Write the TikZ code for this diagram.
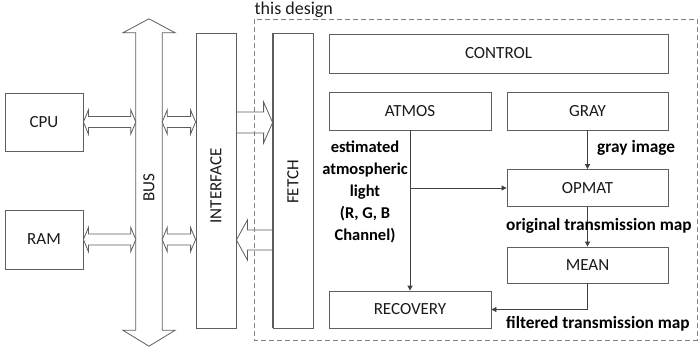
\documentclass[tikz,border=0pt]{standalone}
\usepackage{fontspec}
\setmainfont{Carlito}
\usetikzlibrary{arrows.meta,calc}
\definecolor{edge}{HTML}{5E5E5E}
\definecolor{wire}{HTML}{404040}
\definecolor{ink}{HTML}{1A1A1A}
\definecolor{frame}{HTML}{808080}

% outlined two-way block arrow between two points on one height
\newcommand\twowayarrow[2]{%
  \draw[blockarrow] let \p1=(#1), \p2=(#2) in
    (\x1,\y1) -- (\x1+5pt,\y1+12pt) -- (\x1+5pt,\y1+5.5pt) -- (\x2-5pt,\y1+5.5pt)
    -- (\x2-5pt,\y1+12pt) -- (\x2,\y1) -- (\x2-5pt,\y1-12pt) -- (\x2-5pt,\y1-5.5pt)
    -- (\x1+5pt,\y1-5.5pt) -- (\x1+5pt,\y1-12pt) -- cycle;}

\begin{document}
\begin{tikzpicture}[x=1pt,y=-1pt,
  box/.style={draw=edge, line width=0.8pt, fill=white, inner sep=0pt, text=ink,
    font=\fontsize{17}{20}\selectfont},
  blockarrow/.style={draw=edge, line width=0.8pt, fill=white, line join=miter},
  wirearrow/.style={draw=wire, line width=0.8pt, -{Triangle[length=5pt,width=5pt]}},
  lbl/.style={font=\bfseries\fontsize{17.3}{22}\selectfont, text=black, inner sep=0pt},
  plain/.style={font=\fontsize{17}{20}\selectfont, text=ink, inner sep=0pt},
]
\useasboundingbox (0,0) rectangle (698,349);

% host side
\node[box, minimum width=78pt, minimum height=58pt] (cpu) at (44,122) {CPU};
\node[box, minimum width=78pt, minimum height=59pt] (ram) at (44,239.5) {RAM};
\node[inner sep=0pt, minimum width=26pt, minimum height=297pt] (bus) at (149,181.5) {};
\node[box, minimum width=40pt, minimum height=295pt] (interface) at (216,180.5) {};
\node[box, minimum width=40pt, minimum height=295pt] (fetch) at (293,180.5) {};

% system bus
\draw[blockarrow] (bus.north west) -- ++(-13pt,0) -- ($(bus.north)+(0,14pt)$)
  -- ($(bus.north east)+(13pt,0)$) -- (bus.north east) -- (bus.south east)
  -- ++(13pt,0) -- ($(bus.south)+(0,-16pt)$) -- ($(bus.south west)+(-13pt,0)$)
  -- (bus.south west) -- cycle;
\node[plain, rotate=90] (buslabel) at (149,188) {BUS};
\node[plain, rotate=90] (iflabel) at (216,186) {INTERFACE};
\node[plain, rotate=90] (fetchlabel) at (293,182) {FETCH};

% bus traffic
\twowayarrow{cpu.east}{bus.west |- cpu.east}
\twowayarrow{bus.east |- cpu.east}{interface.west |- cpu.east}
\twowayarrow{ram.east}{bus.west |- ram.east}
\twowayarrow{bus.east |- ram.east}{interface.west |- ram.east}

% interface -> fetch
\coordinate (inA) at (interface.east |- 0,122.5);
\coordinate (inB) at (fetch.west |- 0,122.5);
\draw[blockarrow] let \p1=(inA), \p2=(inB) in
  (\x1,\y1+10.5pt) -- (\x2-9pt,\y1+10.5pt) -- (\x2-9pt,\y1+20.5pt) -- (\x2,\y1)
  -- (\x2-9pt,\y1-20.5pt) -- (\x2-9pt,\y1-10.5pt) -- (\x1,\y1-10.5pt) -- cycle;
% fetch -> interface
\coordinate (outA) at (fetch.west |- 0,240);
\coordinate (outB) at (interface.east |- 0,240);
\draw[blockarrow] let \p1=(outA), \p2=(outB) in
  (\x1,\y1+10pt) -- (\x2+11pt,\y1+10pt) -- (\x2+11pt,\y1+20pt) -- (\x2,\y1)
  -- (\x2+11pt,\y1-20pt) -- (\x2+11pt,\y1-10pt) -- (\x1,\y1-10pt) -- cycle;
\draw[edge, line width=0.8pt] (fetch.north west) -- (fetch.south west);
\draw[edge, line width=0.8pt] (interface.north east) -- (interface.south east);

% dehazing core
\node[box, minimum width=339pt, minimum height=39pt] (control) at (498.5,53.5) {CONTROL};
\node[box, minimum width=162pt, minimum height=38pt] (atmos) at (410,111) {ATMOS};
\node[box, minimum width=161pt, minimum height=38pt] (gray) at (587.5,111) {GRAY};
\node[box, minimum width=161pt, minimum height=37pt] (opmat) at (587.5,188) {OPMAT};
\node[box, minimum width=161pt, minimum height=36pt] (mean) at (587.5,265) {MEAN};
\node[box, minimum width=162pt, minimum height=37pt] (recovery) at (410,309.5) {RECOVERY};

\draw[wirearrow] (atmos.south) -- (recovery.north);
\draw[wirearrow] (atmos.south |- opmat.west) -- (opmat.west);
\draw[wirearrow] (gray.south) -- (opmat.north);
\draw[wirearrow] (opmat.south) -- (mean.north);
\draw[wirearrow] (mean.south) |- (recovery.east);

\node[lbl, align=center, font=\bfseries\fontsize{16.5}{22}\selectfont] (atmoslabel) at (365,191.5)
  {estimated\\atmospheric\\light\\(R, G, B\\Channel)};
\node[lbl, anchor=west] (graylabel) at (597,147.5) {gray image};
\node[lbl, anchor=west] (origlabel) at (506,225.5) {original transmission map};
\node[lbl, anchor=west] (filtlabel) at (506,324) {filtered transmission map};

% boundary of the accelerator
\draw[frame, line width=0.8pt, dash pattern=on 5pt off 3pt] (254,19) rectangle (697,340);
\node[plain, anchor=west, font=\fontsize{18}{20}\selectfont] (title) at (254.5,10) {this design};
\end{tikzpicture}
\end{document}
